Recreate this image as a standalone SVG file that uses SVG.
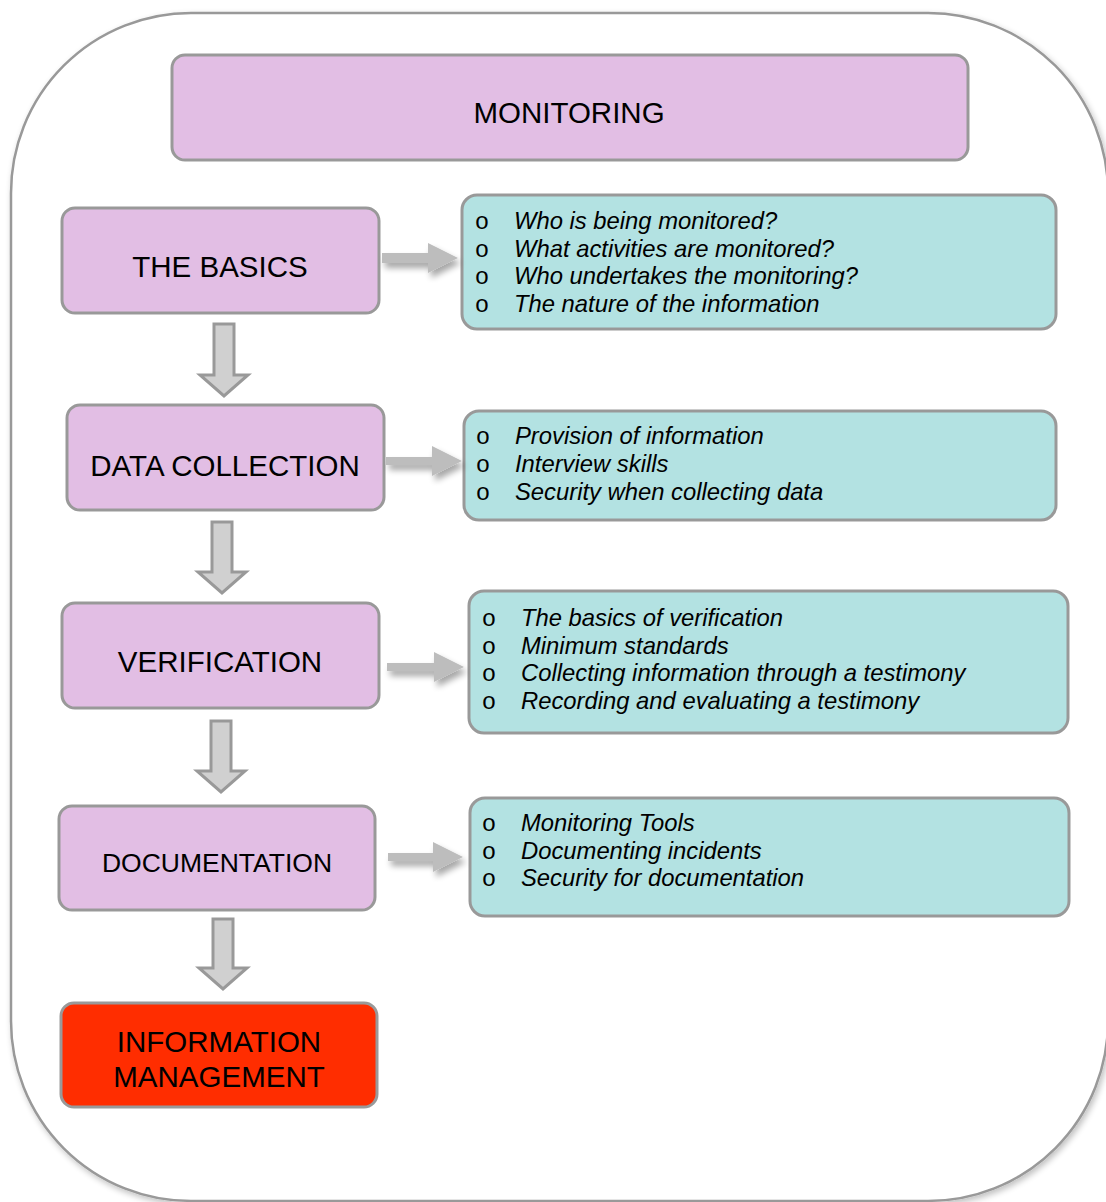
<svg xmlns="http://www.w3.org/2000/svg" width="1106" height="1202" viewBox="0 0 1106 1202">
  <defs>
    <filter id="soft" x="-10%" y="-10%" width="120%" height="120%">
      <feGaussianBlur in="SourceAlpha" stdDeviation="3"/>
      <feOffset dx="2" dy="3" result="b"/>
      <feComponentTransfer><feFuncA type="linear" slope="0.25"/></feComponentTransfer>
      <feMerge><feMergeNode/><feMergeNode in="SourceGraphic"/></feMerge>
    </filter>
    <filter id="arrowShadow" x="-30%" y="-50%" width="160%" height="200%">
      <feGaussianBlur in="SourceAlpha" stdDeviation="3"/>
      <feOffset dx="3" dy="5" result="b"/>
      <feComponentTransfer><feFuncA type="linear" slope="0.35"/></feComponentTransfer>
      <feMerge><feMergeNode/><feMergeNode in="SourceGraphic"/></feMerge>
    </filter>
    <style>
      .frame { fill: #ffffff; stroke: #999999; stroke-width: 2.5; }
      .step { fill: #e2bee4; stroke: #999999; stroke-width: 3; }
      .final { fill: #ff2d00; stroke: #999999; stroke-width: 3; }
      .detail { fill: #b3e2e2; stroke: #999999; stroke-width: 3; }
      .label { font-family: "Liberation Sans", Arial, sans-serif; font-size: 29.5px; fill: #000000; text-anchor: middle; }
      .item { font-family: "Liberation Sans", Arial, sans-serif; font-size: 23.8px; font-style: italic; fill: #000000; }
      .bullet { font-family: "Liberation Mono", "Courier New", monospace; font-size: 24px; fill: #000000; text-anchor: middle; }
      .down { fill: #d0d0d0; stroke: #999999; stroke-width: 3; stroke-linejoin: miter; }
      .right { fill: #bdbdbd; }
    </style>
  </defs>

  <!-- outer frame -->
  <rect class="frame" x="11" y="13" width="1097" height="1188" rx="180" ry="180" filter="url(#soft)"/>

  <g id="monitoring">
    <rect class="step" x="172" y="55" width="796" height="105" rx="13"/>
    <text class="label" x="569" y="123">MONITORING</text>
  </g>

  <g id="the-basics">
    <rect class="step" x="62" y="208" width="317" height="105" rx="13"/>
    <text class="label" x="220" y="277">THE BASICS</text>
  </g>

  <g id="data-collection">
    <rect class="step" x="67" y="405" width="317" height="105" rx="13"/>
    <text class="label" x="225" y="476">DATA COLLECTION</text>
  </g>

  <g id="verification">
    <rect class="step" x="62" y="603" width="317" height="105" rx="13"/>
    <text class="label" x="220" y="672">VERIFICATION</text>
  </g>

  <g id="documentation">
    <rect class="step" x="59" y="806" width="316" height="104" rx="13"/>
    <text class="label" x="217" y="872" style="font-size:26.5px">DOCUMENTATION</text>
  </g>

  <g id="information-management">
    <rect class="final" x="61" y="1003" width="316" height="104" rx="13"/>
    <text class="label" x="219" y="1052">INFORMATION</text>
    <text class="label" x="219" y="1087">MANAGEMENT</text>
  </g>

  <g id="basics-topics">
    <rect class="detail" x="462" y="195" width="594" height="134" rx="15"/>
    <text class="bullet" x="482" y="229">o</text>
    <text class="bullet" x="482" y="257">o</text>
    <text class="bullet" x="482" y="284">o</text>
    <text class="bullet" x="482" y="312">o</text>
    <text class="item" x="514" y="229">Who is being monitored?</text>
    <text class="item" x="514" y="257">What activities are monitored?</text>
    <text class="item" x="514" y="284">Who undertakes the monitoring?</text>
    <text class="item" x="514" y="312">The nature of the information</text>
  </g>

  <g id="collection-topics">
    <rect class="detail" x="464" y="411" width="592" height="109" rx="15"/>
    <text class="bullet" x="483" y="444">o</text>
    <text class="bullet" x="483" y="472">o</text>
    <text class="bullet" x="483" y="500">o</text>
    <text class="item" x="515" y="444">Provision of information</text>
    <text class="item" x="515" y="472">Interview skills</text>
    <text class="item" x="515" y="500">Security when collecting data</text>
  </g>

  <g id="verification-topics">
    <rect class="detail" x="469" y="591" width="599" height="142" rx="15"/>
    <text class="bullet" x="489" y="626">o</text>
    <text class="bullet" x="489" y="654">o</text>
    <text class="bullet" x="489" y="681">o</text>
    <text class="bullet" x="489" y="709">o</text>
    <text class="item" x="521" y="626">The basics of verification</text>
    <text class="item" x="521" y="654">Minimum standards</text>
    <text class="item" x="521" y="681">Collecting information through a testimony</text>
    <text class="item" x="521" y="709">Recording and evaluating a testimony</text>
  </g>

  <g id="documentation-topics">
    <rect class="detail" x="470" y="798" width="599" height="118" rx="15"/>
    <text class="bullet" x="489" y="831">o</text>
    <text class="bullet" x="489" y="859">o</text>
    <text class="bullet" x="489" y="886">o</text>
    <text class="item" x="521" y="831">Monitoring Tools</text>
    <text class="item" x="521" y="859">Documenting incidents</text>
    <text class="item" x="521" y="886">Security for documentation</text>
  </g>

  <g id="connectors">
    <!-- horizontal block arrows to topic lists -->
    <g filter="url(#arrowShadow)">
      <path class="right" d="M382,253 H428 V243 L458,258 L428,273 V263 H382 Z"/>
      <path class="right" d="M386,457 H432 V446 L462,461 L432,476 V465 H386 Z"/>
      <path class="right" d="M387,663 H434 V652 L464,667 L434,682 V671 H387 Z"/>
      <path class="right" d="M388,853 H433 V842 L463,857 L433,872 V861 H388 Z"/>
    </g>
    <!-- vertical block arrows between steps -->
    <path class="down" d="M214,324 H234 V375 H248 L224,396 L200,375 H214 Z"/>
    <path class="down" d="M212,522 H232 V572 H246 L222,593 L198,572 H212 Z"/>
    <path class="down" d="M211,721 H231 V771 H245 L221,792 L197,771 H211 Z"/>
    <path class="down" d="M213,919 H233 V968 H247 L223,989 L199,968 H213 Z"/>
  </g>
</svg>
